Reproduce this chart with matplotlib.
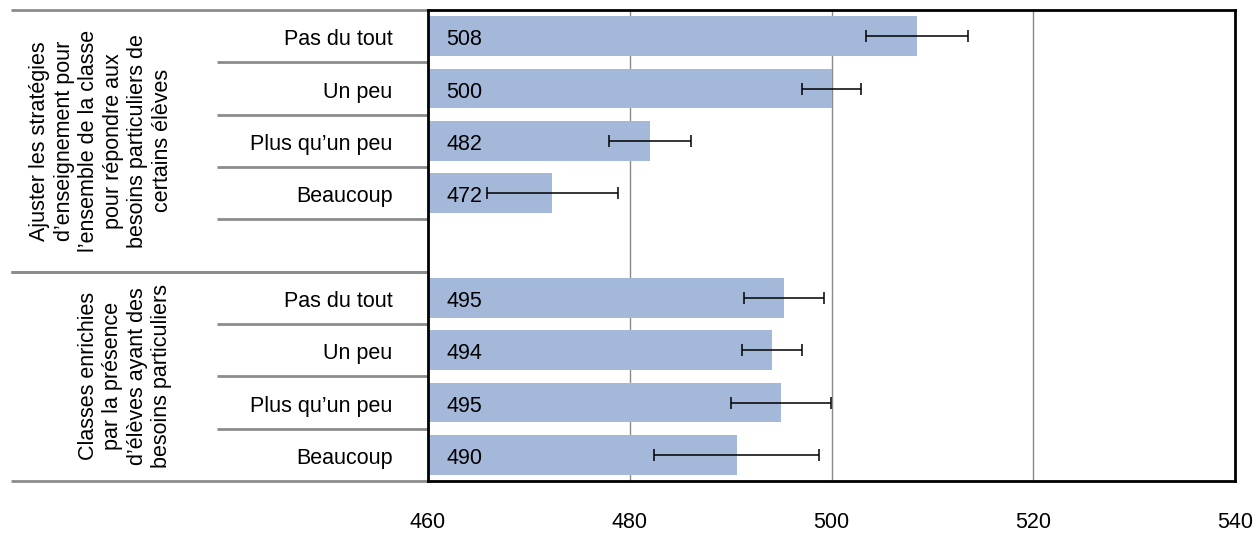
import matplotlib
matplotlib.use("Agg")
import matplotlib.pyplot as plt
import matplotlib.transforms as mtransforms

plt.rcParams['font.family'] = ['Liberation Sans', 'DejaVu Sans']

# ---- data ----
group_labels = [
    "Ajuster les stratégies\nd’enseignement pour\nl’ensemble de la classe\npour répondre aux\nbesoins particuliers de\ncertains élèves",
    "Classes enrichies\npar la présence\nd’élèves ayant des\nbesoins particuliers",
]
categories = ["Pas du tout", "Un peu", "Plus qu’un peu", "Beaucoup"]
values_g1 = [508.5, 500.0, 482.0, 472.3]
errors_g1 = [5.05, 2.95, 4.1, 6.5]
labels_g1 = ["508", "500", "482", "472"]
values_g2 = [495.3, 494.1, 495.0, 490.6]
errors_g2 = [3.95, 2.95, 4.95, 8.15]
labels_g2 = ["495", "494", "495", "490"]
xticks = [460, 480, 500, 520, 540]

bar_color = "#A4B8D9"
sep_color = "#8C8C8C"
FS = 15.5

fig = plt.figure(figsize=(12.53, 5.33), dpi=100)
ax = fig.add_axes([428 / 1253, 1 - 481 / 533, (1235 - 428) / 1253, (481 - 10) / 533])
trans = mtransforms.blended_transform_factory(ax.transAxes, ax.transData)

n_cat = len(categories)
groups = [(values_g1, errors_g1, labels_g1), (values_g2, errors_g2, labels_g2)]
row = 0
group_spans = []
for gi, (vals, errs, labs) in enumerate(groups):
    ys = [row + i for i in range(n_cat)]
    base = xticks[0]
    ax.barh(ys, [v - base for v in vals], left=base, height=0.76, color=bar_color,
            edgecolor='none', zorder=2)
    ax.errorbar(vals, ys, xerr=errs, fmt='none', ecolor='black', elinewidth=1.1,
                capsize=4.5, capthick=1.1, zorder=3)
    for y, lab in zip(ys, labs):
        ax.text(base + 1.8, y + 0.07, lab, ha='left', va='center', fontsize=FS, zorder=4)
    for y, c in zip(ys, categories):
        ax.text(-0.044, y + 0.07, c, transform=trans, ha='right', va='center', fontsize=FS)
    span_end = row + n_cat + (1 if gi == 0 else 0)
    group_spans.append((row - 0.5, span_end - 0.5))
    row = span_end

ax.set_xlim(xticks[0], xticks[-1])
ax.set_ylim(row - 0.5, -0.5)
ax.set_yticks([])
ax.set_xticks(xticks)
ax.tick_params(axis='x', length=0, pad=22, labelsize=FS)
ax.grid(axis='x', color='#8a8a8a', linewidth=1.0, zorder=1)
ax.set_axisbelow(True)
for s in ax.spines.values():
    s.set_linewidth(2.0)
    s.set_color('black')

outer_x = (11 - 428) / 807
inner_x = (217 - 428) / 807
for (a, b) in group_spans:
    for y in (a, b):
        ax.plot([outer_x, 0], [y, y], transform=trans, color=sep_color, lw=2.0,
                clip_on=False, solid_capstyle='butt')
for (a, b) in group_spans:
    k = a + 1
    while k < b - 0.01:
        if not any(abs(k - s) < 0.01 for span in group_spans for s in span):
            ax.plot([inner_x, 0], [k, k], transform=trans, color=sep_color, lw=2.0,
                    clip_on=False, solid_capstyle='butt')
        k += 1

gx = [(101 - 428) / 807, (125 - 428) / 807]
for (a, b), txt, x in zip(group_spans, group_labels, gx):
    ax.text(x, (a + b) / 2, txt, transform=trans, rotation=90, ha='center', va='center',
            multialignment='center', fontsize=FS, linespacing=1.22)

fig.savefig("out.png", dpi=100)
